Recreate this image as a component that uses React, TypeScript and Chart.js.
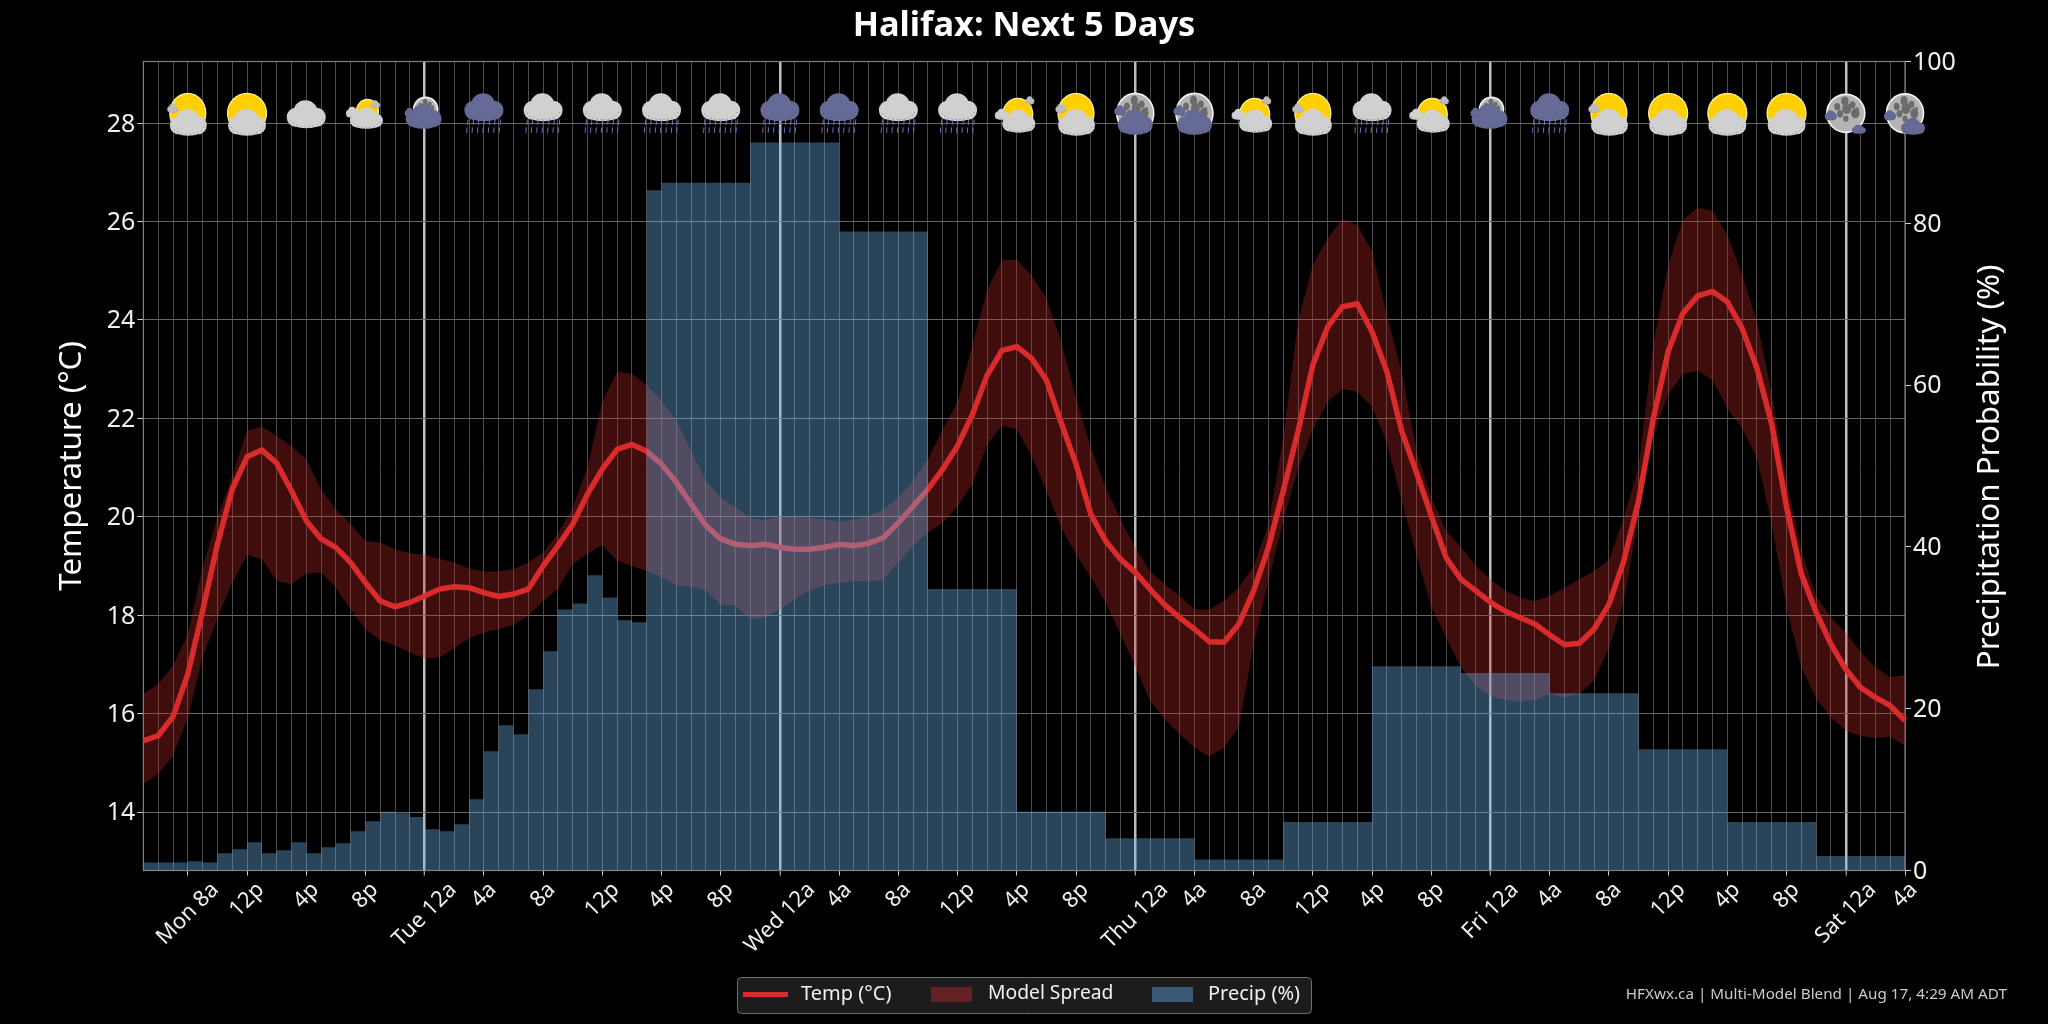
import React, { useEffect, useRef } from "react";
import { Chart, registerables } from "chart.js";

Chart.register(...registerables);

const FONT = "'Noto Sans', sans-serif";

const dayNames = ["Mon", "Tue", "Wed", "Thu", "Fri", "Sat"];
const hourLabels = ["5a","6a","7a","8a","9a","10a","11a","12p","1p","2p","3p","4p","5p","6p","7p","8p","9p","10p","11p","12a","1a","2a","3a","4a"];

const temperature = [
  15.45,15.55,15.94,16.8,18.09,19.44,20.56,21.22,21.36,21.09,
  20.53,19.92,19.55,19.38,19.07,18.66,18.29,18.17,18.26,18.39,
  18.53,18.58,18.56,18.46,18.38,18.43,18.53,19.0,19.41,19.85,
  20.46,20.97,21.37,21.47,21.33,21.07,20.7,20.26,19.82,19.55,
  19.44,19.41,19.44,19.38,19.34,19.34,19.38,19.44,19.41,19.46,
  19.58,19.88,20.22,20.56,20.97,21.44,22.08,22.88,23.38,23.46,
  23.22,22.78,21.91,21.07,20.05,19.51,19.14,18.87,18.53,18.21,
  17.95,17.72,17.46,17.45,17.82,18.5,19.38,20.53,21.74,23.09,
  23.86,24.27,24.33,23.76,22.95,21.74,20.9,20.02,19.17,18.73,
  18.5,18.26,18.08,17.95,17.82,17.6,17.4,17.43,17.72,18.22,
  19.1,20.32,22.0,23.36,24.14,24.49,24.58,24.37,23.83,23.02,
  21.88,20.19,18.83,18.06,17.41,16.9,16.53,16.33,16.16,15.86,
];
const spreadHigh = [
  16.4,16.6,16.97,17.62,18.97,19.99,20.83,21.75,21.83,21.64,
  21.44,21.17,20.56,20.15,19.85,19.51,19.48,19.34,19.26,19.23,
  19.14,19.07,18.95,18.89,18.89,18.94,19.07,19.27,19.65,20.19,
  21.0,22.34,22.95,22.9,22.68,22.36,21.95,21.34,20.73,20.39,
  20.19,19.97,19.93,20.0,20.0,19.98,19.95,19.9,19.94,20.02,
  20.15,20.39,20.73,21.17,21.78,22.34,23.49,24.61,25.22,25.23,
  24.9,24.44,23.56,22.41,21.41,20.59,19.95,19.38,18.89,18.63,
  18.39,18.12,18.11,18.29,18.56,19.0,19.85,21.6,23.97,25.12,
  25.66,26.05,25.93,25.39,24.1,22.95,21.34,20.39,19.71,19.38,
  19.0,18.73,18.5,18.36,18.29,18.39,18.56,18.73,18.9,19.12,
  19.98,21.0,23.5,25.12,26.03,26.28,26.22,25.73,24.91,23.97,
  22.5,20.73,19.31,18.39,17.95,17.65,17.25,16.94,16.74,16.79,
];
const spreadLow = [
  14.57,14.77,15.14,15.92,17.14,17.95,18.66,19.23,19.14,18.7,
  18.63,18.85,18.87,18.56,18.12,17.72,17.49,17.38,17.24,17.12,
  17.14,17.33,17.53,17.65,17.72,17.8,17.99,18.29,18.53,19.04,
  19.25,19.43,19.1,19.0,18.9,18.77,18.61,18.58,18.5,18.21,
  18.19,17.92,17.95,18.12,18.33,18.5,18.61,18.66,18.7,18.68,
  18.73,19.07,19.41,19.68,19.88,20.22,20.66,21.47,21.85,21.78,
  21.24,20.53,19.78,19.24,18.77,18.26,17.62,16.97,16.26,15.89,
  15.58,15.31,15.13,15.31,15.72,17.41,18.7,19.92,20.97,21.78,
  22.34,22.6,22.54,22.23,21.51,20.32,19.24,18.18,17.55,16.94,
  16.57,16.36,16.28,16.24,16.28,16.4,16.33,16.4,16.67,17.34,
  18.29,19.99,21.68,22.48,22.9,22.97,22.78,22.2,21.8,21.2,
  19.85,18.16,16.94,16.3,15.92,15.65,15.55,15.5,15.53,15.35,
];
const precipitation = [
  1.0,1.0,1.0,1.15,1.0,2.14,2.64,3.5,2.14,2.5,
  3.5,2.14,2.88,3.38,4.86,6.1,7.25,7.08,6.6,5.1,
  4.86,5.72,8.81,14.74,17.96,16.84,22.4,27.1,32.25,33.0,
  36.5,33.73,30.93,30.68,84.1,85,85,85,85,85,
  85,90,90,90,90,90,90,79,79,79,
  79,79,79,34.8,34.8,34.8,34.8,34.8,34.8,7.25,
  7.25,7.25,7.25,7.25,7.25,4,4,4,4,4,
  4,1.36,1.36,1.36,1.36,1.36,1.36,6,6,6,
  6,6,6,25.25,25.25,25.25,25.25,25.25,25.25,24.4,
  24.4,24.4,24.4,24.4,24.4,21.9,21.9,21.9,21.9,21.9,
  21.9,15,15,15,15,15,15,6,6,6,
  6,6,6,1.8,1.8,1.8,1.8,1.8,1.8,1.8,
];
const tempTicks = [14, 16, 18, 20, 22, 24, 26, 28];
const precipTicks = [0, 20, 40, 60, 80, 100];
const iconLevel = 28.2;
const weatherIcons = [
  "sunPuff","sunWide","cloud","sunSmall","moonSmall","rainDark","rain","rain","rain","rain",
  "rainDark","rainDark","rain","rain","sunMed","sunPuff","moonBig","moonBig","sunMed","sunPuff",
  "rain","sunMed","moonSmall","rainDark","sunPuff","sunWide","sunWide","sunWide","moonTiny","moonCloud",
];
const footerText = "HFXwx.ca | Multi-Model Blend | Aug 17, 4:29 AM ADT";

const hourStep = 4;
const isLabelled = (i: number) => (i - 3) % hourStep === 0;
const isDayStart = (i: number) => hourLabels[i % 24] === "12a";
const categories = temperature.map((_, i) => {
  const h = hourLabels[i % 24];
  if (!isLabelled(i)) return "";
  if (i === 3) return `${dayNames[0]} ${h}`;
  if (h === "12a") return `${dayNames[Math.floor((i + 5) / 24)]} ${h}`;
  return h;
});

function blob(ctx: CanvasRenderingContext2D, x: number, y: number, rx: number, ry: number) {
  ctx.beginPath();
  ctx.ellipse(x, y, rx, ry, 0, 0, Math.PI * 2);
  ctx.fill();
}

function cloud(ctx: CanvasRenderingContext2D, cx: number, cy: number, w: number, h: number, color: string) {
  ctx.fillStyle = color;
  const lumps = [[0, 0.24, 0.42, 0.26], [-0.27, 0.1, 0.23, 0.34], [0.27, 0.1, 0.23, 0.34], [-0.02, -0.13, 0.3, 0.37], [0.12, 0.05, 0.3, 0.3]];
  for (const [dx, dy, rx, ry] of lumps) blob(ctx, cx + dx * w, cy + dy * h, rx * w, ry * h);
  ctx.save();
  ctx.strokeStyle = "rgba(60,60,60,0.65)";
  ctx.lineWidth = 0.8;
  ctx.setLineDash([1, 3]);
  ctx.beginPath();
  ctx.ellipse(cx, cy + 0.1 * h, 0.43 * w, 0.34 * h, 0, 0.2, Math.PI - 0.2);
  ctx.stroke();
  ctx.restore();
}

function sun(ctx: CanvasRenderingContext2D, cx: number, cy: number, rx: number, ry: number) {
  ctx.beginPath();
  ctx.ellipse(cx, cy, rx, ry, 0, 0, Math.PI * 2);
  ctx.fillStyle = "#FFD000";
  ctx.fill();
  ctx.strokeStyle = "#FFF2A8";
  ctx.lineWidth = 1.2;
  ctx.stroke();
}

function moon(ctx: CanvasRenderingContext2D, cx: number, cy: number, rx: number, ry: number) {
  ctx.beginPath();
  ctx.ellipse(cx, cy, rx, ry, 0, 0, Math.PI * 2);
  ctx.fillStyle = "#B4B4B4";
  ctx.fill();
  ctx.strokeStyle = "#F4F4F4";
  ctx.lineWidth = 1.6;
  ctx.stroke();
  ctx.fillStyle = "#6C6C6C";
  const craters = [[-0.05, -0.65, 0.2], [0.35, -0.45, 0.16], [-0.45, -0.35, 0.16], [0.05, -0.25, 0.24], [0.5, 0.0, 0.22], [-0.3, 0.02, 0.16], [0.0, 0.28, 0.14], [0.6, -0.2, 0.1], [-0.65, 0.05, 0.1]];
  for (const [dx, dy, r] of craters) blob(ctx, cx + dx * rx, cy + dy * ry, r * rx, r * ry * 1.2);
}

function rainStreaks(ctx: CanvasRenderingContext2D, cx: number, top: number) {
  ctx.strokeStyle = "#7C7CD8";
  ctx.lineWidth = 0.9;
  const rows = [[top, 0], [top + 8, -1]];
  for (const [y, shift] of rows) {
    for (let k = -3; k <= 3; k++) {
      const x = cx + k * 5.4 + shift;
      ctx.beginPath();
      ctx.moveTo(x + 0.4, y);
      ctx.lineTo(x, y + 5.5);
      ctx.stroke();
    }
  }
}

const GREY = "#D0D0D0";
const DARK = "#666A96";

function drawIcon(ctx: CanvasRenderingContext2D, kind: string, x: number, y: number) {
  ctx.save();
  switch (kind) {
    case "sunWide":
      sun(ctx, x, y, 19.5, 20);
      cloud(ctx, x, y + 9, 38, 27, GREY);
      break;
    case "sunPuff":
      sun(ctx, x, y, 18, 20);
      cloud(ctx, x - 15, y - 5, 11, 9, "#BDBDBD");
      cloud(ctx, x + 0.5, y + 9, 37, 27, GREY);
      break;
    case "sunMed":
      sun(ctx, x + 1, y + 1, 15, 16);
      cloud(ctx, x - 15, y + 1, 14, 11, GREY);
      cloud(ctx, x + 13, y - 13, 9, 8, "#BDBDBD");
      cloud(ctx, x + 2, y + 8, 33, 23, GREY);
      break;
    case "sunSmall":
      sun(ctx, x + 2, y - 2, 11, 12);
      cloud(ctx, x - 13, y - 1, 13, 11, GREY);
      cloud(ctx, x + 10, y - 9, 9, 8, "#BDBDBD");
      cloud(ctx, x + 1, y + 5, 33, 21, GREY);
      break;
    case "cloud":
      cloud(ctx, x, y + 1, 39, 28, GREY);
      break;
    case "rain":
    case "rainDark":
      cloud(ctx, x, y - 6, 39, 28, kind === "rain" ? GREY : DARK);
      rainStreaks(ctx, x, y + 6);
      break;
    case "moonSmall":
      moon(ctx, x + 1, y - 4, 12, 12);
      cloud(ctx, x - 1, y + 3, 36, 25, DARK);
      cloud(ctx, x - 15, y - 1, 10, 9, DARK);
      break;
    case "moonBig":
      moon(ctx, x, y, 18.5, 20);
      cloud(ctx, x - 15, y - 3, 12, 10, DARK);
      cloud(ctx, x, y + 9, 35, 25, DARK);
      break;
    case "moonTiny":
      moon(ctx, x, y, 19, 19);
      cloud(ctx, x - 15, y + 2, 12, 10, DARK);
      cloud(ctx, x + 13, y + 16, 14, 9, DARK);
      break;
    default:
      moon(ctx, x, y, 18.5, 19.5);
      cloud(ctx, x - 15, y + 2, 12, 10, DARK);
      cloud(ctx, x + 8, y + 13, 24, 17, DARK);
  }
  ctx.restore();
}

function uprightText(ctx: CanvasRenderingContext2D, text: string, x: number, y: number) {
  ctx.save();
  ctx.translate(x, y);
  ctx.rotate(-Math.PI / 2);
  ctx.font = `31.3px ${FONT}`;
  ctx.fillStyle = "#FFFFFF";
  ctx.textAlign = "center";
  ctx.textBaseline = "middle";
  ctx.fillText(text, 0, 0);
  ctx.restore();
}

const chartFurniture = {
  id: "chartFurniture",
  beforeDraw(chart: any) {
    const { ctx, scales } = chart;
    ctx.save();
    ctx.font = `22px ${FONT}`;
    scales.x.getLabelItems().forEach((item: any, i: number) => {
      if (!item.label) return;
      const w = ctx.measureText(item.label).width;
      item.options.translation = [scales.x.getPixelForTick(i), 881 + ((w + 15) * Math.SQRT1_2) / 2];
      item.options.textAlign = "center";
      item.options.textBaseline = "middle";
      item.textOffset = 0;
    });
    for (const s of [scales.y, scales.y1]) {
      for (const item of s.getLabelItems()) {
        if (!item.nudged) {
          item.options.translation = [item.options.translation[0], item.options.translation[1] + 1.2];
          item.nudged = true;
        }
      }
    }
    ctx.restore();
  },
  beforeDatasetsDraw(chart: any) {
    const { ctx, chartArea: a } = chart;
    ctx.save();
    ctx.strokeStyle = "#808080";
    ctx.lineWidth = 1.2;
    ctx.strokeRect(a.left, a.top, a.right - a.left, a.bottom - a.top);
    ctx.restore();
  },
  afterDraw(chart: any) {
    const { ctx, scales } = chart;
    const { x, y } = scales;
    ctx.save();
    weatherIcons.forEach((kind, i) => {
      drawIcon(ctx, kind, x.getPixelForValue(3 + i * hourStep), y.getPixelForValue(iconLevel));
    });
    ctx.restore();

    uprightText(ctx, "Temperature (°C)", 72, 466);
    uprightText(ctx, "Precipitation Probability (%)", 1990, 467);

    // legend
    ctx.save();
    ctx.beginPath();
    ctx.roundRect(737.5, 977.5, 574, 36, 4);
    ctx.fillStyle = "#1C1C1C";
    ctx.fill();
    ctx.strokeStyle = "#707070";
    ctx.lineWidth = 1;
    ctx.stroke();
    const ds = chart.data.datasets;
    ctx.textBaseline = "middle";
    ctx.textAlign = "left";
    ctx.fillStyle = "#D92B2B";
    ctx.fillRect(743, 992, 45, 5);
    ctx.fillStyle = "#642023";
    ctx.fillRect(931, 987, 41, 15);
    ctx.fillStyle = "#3C5A75";
    ctx.fillRect(1152, 987, 41, 15);
    ctx.fillStyle = "#F0F0F0";
    ctx.font = `20px ${FONT}`;
    ctx.fillText(ds.find((d: any) => d.key === "temp").label, 801, 994);
    ctx.fillText(ds.find((d: any) => d.key === "precip").label, 1208, 994);
    ctx.font = `19.3px ${FONT}`;
    ctx.fillText(ds.find((d: any) => d.key === "high").label, 988, 994);
    ctx.font = `15.25px ${FONT}`;
    ctx.fillStyle = "#CCCCCC";
    ctx.textAlign = "right";
    ctx.fillText(footerText, 2007, 995);
    ctx.restore();
  },
};

export default function App() {
  const ref = useRef<HTMLCanvasElement | null>(null);
  useEffect(() => {
    document.body.style.margin = "0";
    document.body.style.background = "#000";
    const chart = new Chart(ref.current as HTMLCanvasElement, {
      type: "line",
      plugins: [chartFurniture],
      data: {
        labels: categories,
        datasets: [
          { key: "precip", label: "Precip (%)", data: precipitation, yAxisID: "y1", stepped: "before", borderWidth: 0, backgroundColor: "rgba(110,179,234,0.38)", fill: "origin", pointRadius: 0, order: 0 },
          { key: "temp", label: "Temp (°C)", data: temperature, yAxisID: "y", borderColor: "#D92B2B", borderWidth: 5.5, borderJoinStyle: "round", fill: false, pointRadius: 0, tension: 0, order: 1 },
          { key: "high", label: "Model Spread", data: spreadHigh, yAxisID: "y", borderWidth: 0, backgroundColor: "rgba(198,40,40,0.32)", fill: "+1", pointRadius: 0, tension: 0, order: 2 },
          { key: "low", label: "Model Spread low", data: spreadLow, yAxisID: "y", borderWidth: 0, fill: false, pointRadius: 0, tension: 0, order: 3 },
        ] as any,
      },
      options: {
        animation: false,
        responsive: false,
        devicePixelRatio: 1,
        layout: { autoPadding: false, padding: 0 },
        events: [],
        plugins: {
          legend: { display: false },
          tooltip: { enabled: false },
          title: {
            display: true,
            text: "Halifax: Next 5 Days",
            color: "#FFFFFF",
            font: { family: FONT, size: 34.4, weight: "bold", lineHeight: 1 },
            padding: { top: 9, bottom: 18.1 },
          },
        },
        scales: {
          x: {
            type: "category",
            offset: false,
            afterFit(s: any) { s.height = 153.5; },
            border: { display: false },
            grid: {
              color: (c: any) => (isDayStart(c.index) ? "#BEBEBE" : "#4A4A4A"),
              lineWidth: (c: any) => (isDayStart(c.index) ? 2.5 : 1),
              tickColor: (c: any) => (isLabelled(c.index) ? "#D0D0D0" : "transparent"),
              tickWidth: 1,
              tickLength: 5,
            },
            ticks: {
              autoSkip: false,
              minRotation: 45,
              maxRotation: 45,
              color: "#F0F0F0",
              font: { family: FONT, size: 22 },
              callback: (_: any, i: number) => categories[i],
            },
          },
          y: {
            position: "left",
            min: 12.811,
            max: 29.254,
            afterFit(s: any) { s.width = 143.4; },
            afterBuildTicks(s: any) { s.ticks = tempTicks.map((value) => ({ value })); },
            border: { display: false },
            grid: { color: "#666666", lineWidth: 1, tickColor: "#D0D0D0", tickLength: 6 },
            ticks: { color: "#F0F0F0", font: { family: FONT, size: 25 }, padding: 2, callback: (v: any) => String(v) },
          },
          y1: {
            position: "right",
            min: 0,
            max: 100,
            afterFit(s: any) { s.width = 143; },
            afterBuildTicks(s: any) { s.ticks = precipTicks.map((value) => ({ value })); },
            border: { display: false },
            grid: { drawOnChartArea: false, tickColor: "#D0D0D0", tickLength: 6 },
            ticks: { color: "#F0F0F0", font: { family: FONT, size: 25 }, padding: 2, callback: (v: any) => String(v) },
          },
        },
      } as any,
    });
    return () => chart.destroy();
  }, []);
  return (
    <div style={{ position: "absolute", left: 0, top: 0, width: 2048, height: 1024, background: "#000" }}>
      <canvas ref={ref} width={2048} height={1024} style={{ display: "block" }} />
    </div>
  );
}
